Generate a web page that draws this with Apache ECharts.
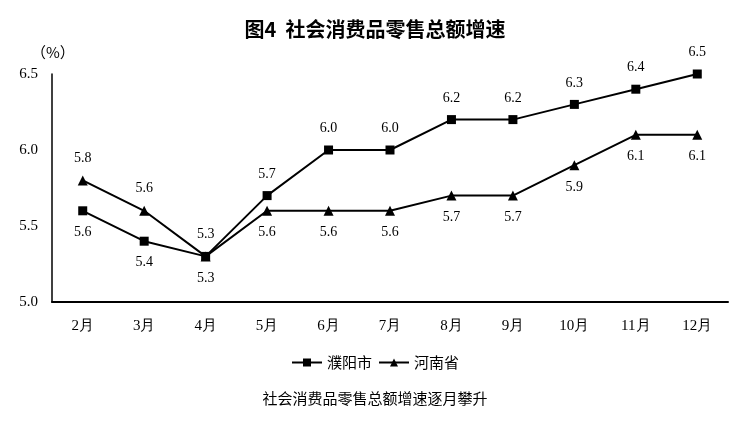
<!DOCTYPE html>
<html><head><meta charset="utf-8">
<script src="https://cdn.jsdelivr.net/npm/echarts@6/dist/echarts.min.js"></script>
<style>html,body{margin:0;padding:0;background:#fff}#c{width:750px;height:445px}</style>
</head><body><div id="c"></div>
<script>
var categories = ['2月','3月','4月','5月','6月','7月','8月','9月','10月','11月','12月'];
var puyang = [5.6,5.4,5.3,5.7,6.0,6.0,6.2,6.2,6.3,6.4,6.5];
var henan = [5.8,5.6,5.3,5.6,5.6,5.6,5.7,5.7,5.9,6.1,6.1];
var puyangLabelPos = ['bottom','bottom','bottom','top','top','top','top','top','top','top','top'];
var henanLabelPos = ['top','top','top','bottom','bottom','bottom','bottom','bottom','bottom','bottom','bottom'];
var yTicks = {min:5.0, max:6.5, interval:0.5};

var serif = '"Liberation Serif","DejaVu Serif",serif';
var cjk = '"Noto Sans CJK SC",sans-serif';
function build(vals, pos){
  return vals.map(function(v,i){return {value:v, label:{position:pos[i]}};});
}
var chart = echarts.init(document.getElementById('c'));
chart.setOption({
  animation:false,
  backgroundColor:'#fff',
  title:[
    {text:'图4  社会消费品零售总额增速', left:'center', top:14,
     textStyle:{fontFamily:cjk, fontSize:20, fontWeight:'bold', color:'#000'}},
    {text:'社会消费品零售总额增速逐月攀升', left:'center', top:386,
     textStyle:{fontFamily:cjk, fontSize:15, fontWeight:'normal', color:'#000'}},
    {text:'（%）', left:26, top:40,
     textStyle:{fontFamily:cjk, fontSize:15, fontWeight:'normal', color:'#000'}}
  ],
  legend:{
    bottom:70, left:'center', itemWidth:30, itemHeight:10, itemGap:6,
    textStyle:{fontFamily:cjk, fontSize:15, color:'#000'},
    data:['濮阳市','河南省']
  },
  grid:{left:52, right:22, top:74, bottom:143},
  xAxis:{
    type:'category', data:categories, boundaryGap:true,
    axisLine:{lineStyle:{color:'#000', width:2}},
    axisTick:{show:false},
    axisLabel:{fontFamily:serif, fontSize:15, color:'#000', margin:17}
  },
  yAxis:{
    type:'value', min:yTicks.min, max:yTicks.max, interval:yTicks.interval,
    axisLine:{show:true, lineStyle:{color:'#000', width:1.5}},
    axisTick:{show:false},
    splitLine:{show:false},
    axisLabel:{fontFamily:serif, fontSize:15, color:'#000', margin:14,
      formatter:function(v){return v.toFixed(1);}}
  },
  series:[
    {name:'濮阳市', type:'line', data:build(puyang, puyangLabelPos),
     symbol:'rect', symbolSize:9,
     lineStyle:{color:'#000', width:2}, itemStyle:{color:'#000'},
     label:{show:true, distance:10, fontFamily:serif, fontSize:14, color:'#000',
       formatter:function(p){return p.value.toFixed(1);}}},
    {name:'河南省', type:'line', data:build(henan, henanLabelPos),
     symbol:'triangle', symbolSize:10,
     lineStyle:{color:'#000', width:2}, itemStyle:{color:'#000'},
     label:{show:true, distance:10, fontFamily:serif, fontSize:14, color:'#000',
       formatter:function(p){return p.value.toFixed(1);}}}
  ]
});
</script></body></html>
